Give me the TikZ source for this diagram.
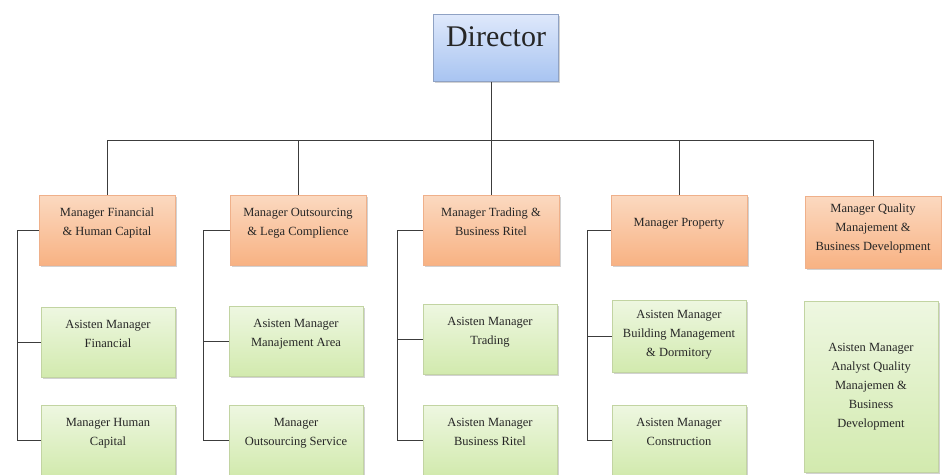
\documentclass[tikz,border=0pt]{standalone}
\usepackage{fontspec}
\setmainfont{Liberation Serif}
\usetikzlibrary{positioning, shadows}
\definecolor{bosstop}{HTML}{DEE8FB}
\definecolor{bossbot}{HTML}{A8C4F1}
\definecolor{bossline}{HTML}{8FA2C4}
\definecolor{mgrtop}{HTML}{FBD9C0}
\definecolor{mgrbot}{HTML}{F8B283}
\definecolor{mgrline}{HTML}{EFB08A}
\definecolor{assttop}{HTML}{EEF7E1}
\definecolor{asstbot}{HTML}{D2EAAE}
\definecolor{asstline}{HTML}{C2D4A2}
\definecolor{wirecol}{HTML}{3C3C3C}

\begin{document}
\begin{tikzpicture}[x=1pt, y=-1pt, font=\fontsize{12.5}{19}\selectfont,
    box/.style={rectangle, draw, align=center, text=black!85,
        drop shadow={shadow xshift=1.5pt, shadow yshift=-1.5pt, fill=black!35, opacity=.5}},
    boss/.style={box, draw=bossline, top color=bosstop, bottom color=bossbot,
        minimum width=125pt, minimum height=67pt, font=\fontsize{30}{36}\selectfont, text depth=22pt},
    mgr/.style={box, draw=mgrline, top color=mgrtop, bottom color=mgrbot,
        minimum width=136pt, minimum height=70pt, text depth=16pt},
    asst/.style={box, draw=asstline, top color=assttop, bottom color=asstbot,
        minimum width=134pt, minimum height=70pt, text depth=16pt},
    wire/.style={draw=wirecol, line width=1pt}]
    \useasboundingbox (0,0) rectangle (942,474);

    \node[boss] (d) at (496,48) {Director};

    \node[mgr] (m1) at (107,230) {Manager Financial\\ \& Human Capital};
    \node[mgr] (m2) at (298,230) {Manager Outsourcing\\ \& Lega Complience};
    \node[mgr] (m3) at (491,230) {Manager Trading \&\\ Business Ritel};
    \node[mgr] (m4) at (679,230) {Manager Property};
    \node[mgr, minimum height=72pt, text depth=10pt] (m5) at (873,232) {Manager Quality\\ Manajement \&\\ Business Development};

    \node[asst] (a11) at (108,342) {Asisten Manager\\ Financial};
    \node[asst] (a12) at (108,440) {Manager Human\\ Capital};
    \node[asst] (a21) at (296,341) {Asisten Manager\\ Manajement Area};
    \node[asst] (a22) at (296,440) {Manager\\ Outsourcing Service};
    \node[asst] (a31) at (490,339) {Asisten Manager\\ Trading};
    \node[asst] (a32) at (490,440) {Asisten Manager\\ Business Ritel};
    \node[asst, minimum height=72pt, text depth=6pt] (a41) at (679,336) {Asisten Manager\\ Building Management\\ \& Dormitory};
    \node[asst] (a42) at (679,440) {Asisten Manager\\ Construction};
    \node[asst, minimum height=171pt, text depth=3pt] (a5) at (871,387) {Asisten Manager\\ Analyst Quality\\ Manajemen \&\\ Business\\ Development};

    % bus under the director
    \coordinate (bus) at (0,140);
    \draw[wire] (m3.north |- d.south) -- (m3.north |- bus);
    \draw[wire] (m1.north) |- (m5.north |- bus) -- (m5.north);
    \foreach \m in {m2,m3,m4}
        \draw[wire] (\m.north) -- (\m.north |- bus);

    % brackets down to the assistants
    \foreach \i/\x in {1/17,2/203,3/397,4/587} {
        \coordinate (k\i) at (\x,0);
        \draw[wire] (m\i.west) -| (k\i |- a\i2.west) -- (a\i2.west);
        \draw[wire] (k\i |- a\i1.west) -- (a\i1.west);
    }
\end{tikzpicture}
\end{document}
